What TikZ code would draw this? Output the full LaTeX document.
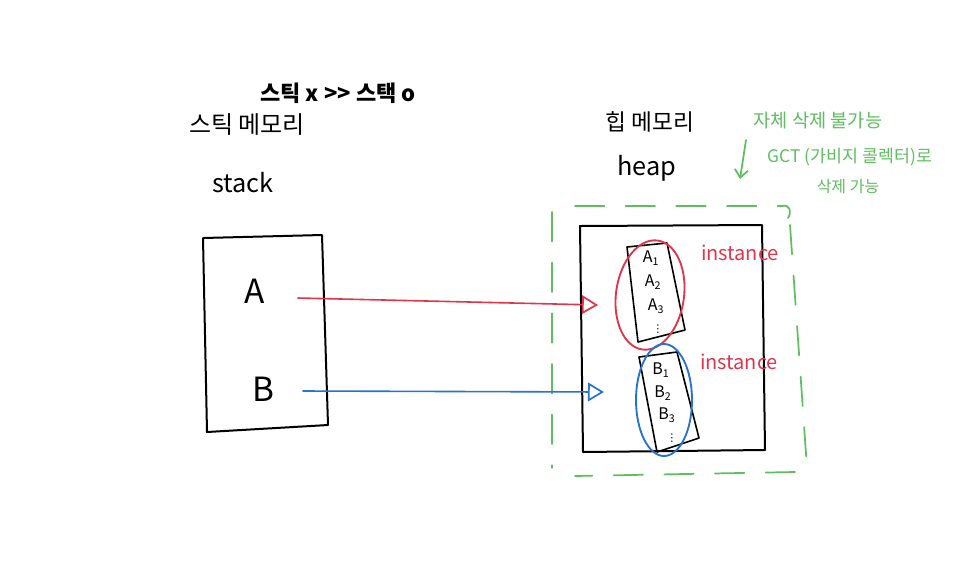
\documentclass[tikz,border=0pt]{standalone}
\usepackage{fontspec}
\setmainfont{Noto Sans CJK KR}
\newfontfamily\kr{Noto Sans CJK KR}
\newfontfamily\dv{DejaVu Sans}
\usetikzlibrary{arrows.meta}
\definecolor{gr}{RGB}{95,190,95}
\definecolor{rd}{RGB}{222,55,75}
\definecolor{bl}{RGB}{40,115,205}
\tikzset{
  pen/.style={line width=1.5pt, black},
  thinpen/.style={line width=1.2pt, black},
  lbl/.style={inner sep=0pt, font=\kr},
  sz/.style={font=\kr\fontsize{#1}{#1}\selectfont},
  vdot/.style={inner sep=0pt, font=\dv\fontsize{8}{8}\selectfont},
  opentip/.style={-{Triangle[open, length=12pt, width=14pt, line width=1.3pt]}},
  gdash/.style={gr, line width=1.3pt, dash pattern=on 22pt off 16pt},
}
\begin{document}
\begin{tikzpicture}[x=0.75pt,y=-0.75pt, line join=round, line cap=round]
\useasboundingbox (0,0) rectangle (960,562);
\fill[white] (0,0) rectangle (960,562);

% title
\node[lbl, sz=16.5] (title) at (338,93) {\bfseries 스틱 x >> 스택 o};

% stack side
\node[lbl, sz=18] (stkmem) at (247,125) {스틱 메모리};
\node[lbl, sz=19] (stk) at (243,183) {stack};
\draw[pen] (203,238) -- (322,235) -- (328,425) -- (207,432) -- cycle;
\node[lbl, sz=25] (A) at (255,291) {A};
\node[lbl, sz=25] (B) at (263,389) {B};

% heap side
\node[lbl, sz=17] (hpmem) at (650,122) {힙 메모리};
\node[lbl, sz=19] (heap) at (647,168) {heap};
\draw[pen] (580,226) -- (762,225) -- (765,450) -- (583,452) -- cycle;

% green note
\node[lbl, sz=14, text=gr] (n1) at (818,121) {자체 삭제 불가능};
\node[lbl, sz=13, text=gr] (n2) at (850,157) {GCT (가비지 콜렉터)로};
\node[lbl, sz=12, text=gr] (n3) at (848,186) {삭제 가능};
\coordinate (g1) at (746,140);
\coordinate (g2) at (740,179);
\draw[gr, line width=1.3pt, -{Straight Barb[length=6pt, width=10pt]}] (g1) -- (g2);

% green dashed frame
\draw[gdash] (552,212) -- (552,468);
\draw[gdash] (575,206) -- (782,206);
\draw[gr, line width=1.3pt] (782,206) .. controls (790,204) and (792,212) .. (788,218);
\draw[gdash] (790,225) -- (807,468);
\draw[gdash] (795,472) -- (575,476);

% instance A
\draw[thinpen] (627,247) -- (667,243) -- (685,330) -- (638,342) -- cycle;
\node[lbl, sz=12] (a1) at (651,258) {A\textsubscript{1}};
\node[lbl, sz=12] (a2) at (653,282) {A\textsubscript{2}};
\node[lbl, sz=12] (a3) at (656,306) {A\textsubscript{3}};
\node[vdot] (ad) at (658,329) {⋮};
\draw[rd, line width=1.4pt, rotate around={-8:(650,295)}] (650,295) ellipse [x radius=34, y radius=55];
\node[lbl, sz=15, text=rd] (i1) at (740,253) {instance};

% instance B
\draw[thinpen] (639,357) -- (677,352) -- (699,438) -- (657,452) -- cycle;
\node[lbl, sz=12] (b1) at (661,370) {B\textsubscript{1}};
\node[lbl, sz=12] (b2) at (663,393) {B\textsubscript{2}};
\node[lbl, sz=12] (b3) at (667,415) {B\textsubscript{3}};
\node[vdot] (bd) at (672,438) {⋮};
\draw[bl, line width=1.4pt] (664,400) ellipse [x radius=28, y radius=56];
\node[lbl, sz=15, text=rd] (i2) at (739,362) {instance};

% references
\coordinate (as) at (298,298);
\coordinate (ae) at (598,305);
\coordinate (bs) at (303,391);
\coordinate (be) at (604,392);
\draw[rd, line width=1.2pt, opentip] (as) -- (ae);
\draw[bl, line width=1.2pt, opentip] (bs) -- (be);
\end{tikzpicture}
\end{document}
